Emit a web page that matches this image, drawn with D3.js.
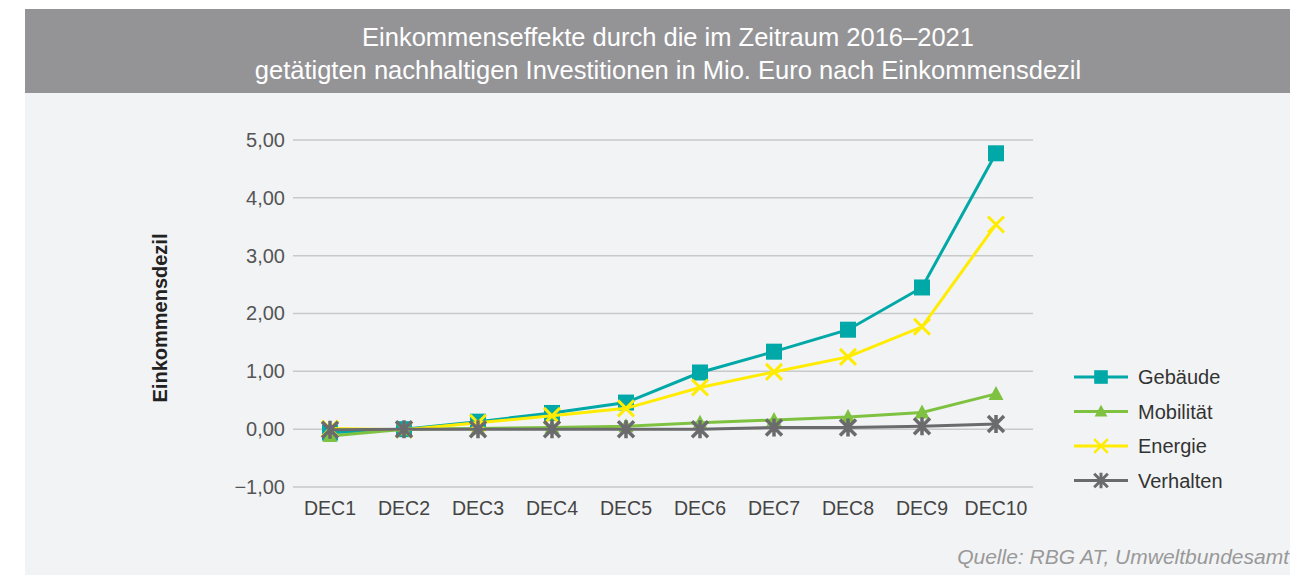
<!DOCTYPE html>
<html>
<head>
<meta charset="utf-8">
<script src="https://cdn.jsdelivr.net/npm/d3@7"></script>
<style>
  body { margin: 0; background: #fff; }
  svg { display: block; font-family: "Liberation Sans", Arial, sans-serif; }
</style>
</head>
<body>
<div id="chart"></div>
<script>
// data
const deciles = ["DEC1", "DEC2", "DEC3", "DEC4", "DEC5", "DEC6", "DEC7", "DEC8", "DEC9", "DEC10"];
const gebaeude = [-0.06, 0.0, 0.13, 0.28, 0.46, 0.98, 1.34, 1.72, 2.45, 4.77];
const mobilitaet = [-0.12, 0.0, 0.01, 0.03, 0.05, 0.11, 0.16, 0.21, 0.29, 0.61];
const energie = [0.01, -0.01, 0.11, 0.23, 0.36, 0.72, 0.99, 1.25, 1.77, 3.54];
const verhalten = [-0.01, 0.0, 0.0, 0.0, 0.0, 0.0, 0.03, 0.03, 0.05, 0.09];
const yTicks = [-1, 0, 1, 2, 3, 4, 5];
const titleLines = ["Einkommenseffekte durch die im Zeitraum 2016–2021",
  "getätigten nachhaltigen Investitionen in Mio. Euro nach Einkommensdezil"];

const series = [
  { name: "Gebäude", values: gebaeude, color: "#00a8a8", symbol: "square" },
  { name: "Mobilität", values: mobilitaet, color: "#7fc241", symbol: "triangle" },
  { name: "Energie", values: energie, color: "#ffec00", symbol: "x" },
  { name: "Verhalten", values: verhalten, color: "#6b6b6e", symbol: "star" }
];

const W = 1290, H = 575;
const svg = d3.select("#chart").append("svg").attr("width", W).attr("height", H);

// background panels
svg.append("rect").attr("x", 25).attr("y", 93).attr("width", W - 25).attr("height", H - 93).attr("fill", "#f2f3f5");
svg.append("rect").attr("x", 25).attr("y", 9).attr("width", W - 25).attr("height", 84).attr("fill", "#949497");

svg.append("g").selectAll("text").data(titleLines).enter().append("text")
  .attr("x", 668).attr("y", (d, i) => 46 + i * 33)
  .attr("text-anchor", "middle").attr("fill", "#fff")
  .style("font-size", "25.5px")
  .text(d => d);

const margin = { left: 293, right: 1033, top: 140, bottom: 487 };
const x = d3.scaleBand().domain(deciles).range([margin.left, margin.right]);
const y = d3.scaleLinear().domain([-1, 5]).range([margin.bottom, margin.top]);
const fmt = v => d3.format(".2f")(v).replace(".", ",").replace("-", "–");

// gridlines
svg.append("g").selectAll("line").data(yTicks).enter().append("line")
  .attr("x1", margin.left).attr("x2", margin.right)
  .attr("y1", d => y(d)).attr("y2", d => y(d))
  .attr("stroke", "#c9c9cc").attr("stroke-width", 1.5);

// y axis
const yAxis = svg.append("g").attr("transform", `translate(${margin.left},0)`)
  .call(d3.axisLeft(y).tickValues(yTicks).tickFormat(fmt).tickSize(0).tickPadding(8));
yAxis.select(".domain").remove();
yAxis.selectAll("text").attr("fill", "#555").style("font-size", "20px")
  .style("font-family", "Liberation Sans, Arial, sans-serif");

// x axis
const xAxis = svg.append("g").attr("transform", `translate(0,${margin.bottom})`)
  .call(d3.axisBottom(x).tickSize(0).tickPadding(14));
xAxis.select(".domain").remove();
xAxis.selectAll("text").attr("fill", "#444").style("font-size", "19.5px")
  .style("font-family", "Liberation Sans, Arial, sans-serif");

svg.append("text")
  .attr("transform", `translate(167,318) rotate(-90)`)
  .attr("text-anchor", "middle").attr("fill", "#222")
  .style("font-size", "20px").style("font-weight", "bold")
  .text("Einkommensdezil");

// marker drawing
function drawMarker(g, sym, color) {
  if (sym === "square") {
    g.append("rect").attr("x", -8).attr("y", -8).attr("width", 16).attr("height", 16).attr("fill", color);
  } else if (sym === "triangle") {
    g.append("path").attr("d", "M0,-8L7.5,6L-7.5,6Z").attr("fill", color);
  } else if (sym === "x") {
    g.append("path").attr("d", "M-8,-8L8,8M-8,8L8,-8").attr("stroke", color).attr("stroke-width", 3);
  } else {
    g.append("path").attr("d", "M-8,-8L8,8M-8,8L8,-8M0,-9V9").attr("stroke", color).attr("stroke-width", 3.5);
  }
}

const line = d3.line().x((d, i) => x(deciles[i]) + x.bandwidth() / 2).y(d => y(d));

series.forEach(s => {
  const g = svg.append("g");
  g.append("path").datum(s.values).attr("d", line)
    .attr("fill", "none").attr("stroke", s.color).attr("stroke-width", 3);
  s.values.forEach((v, i) => {
    const m = g.append("g").attr("transform", `translate(${x(deciles[i]) + x.bandwidth() / 2},${y(v)})`);
    drawMarker(m, s.symbol, s.color);
  });
});

// legend
const legend = svg.append("g");
series.forEach((s, i) => {
  const ly = 377 + i * 34.5;
  const lg = legend.append("g").attr("transform", `translate(1101,${ly})`);
  lg.append("line").attr("x1", -27).attr("x2", 27).attr("stroke", s.color).attr("stroke-width", 3);
  drawMarker(lg.append("g").attr("transform", "scale(0.85)"), s.symbol, s.color);
  legend.append("text").attr("x", 1138).attr("y", ly + 7)
    .attr("fill", "#333").style("font-size", "20px").text(s.name);
});

svg.append("text").attr("x", 1289).attr("y", 564).attr("text-anchor", "end")
  .attr("fill", "#999").style("font-size", "21px").style("font-style", "italic")
  .text("Quelle: RBG AT, Umweltbundesamt");
</script>
</body>
</html>
